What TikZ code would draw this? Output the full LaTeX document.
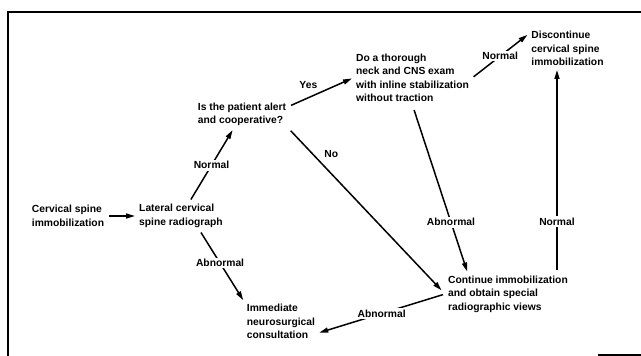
\documentclass[tikz,border=0pt]{standalone}
\usepackage{fontspec}
\setmainfont{Liberation Sans}
\usetikzlibrary{arrows.meta,calc}

\tikzset{
  box/.style={align=left, inner sep=3pt, font=\bfseries\fontsize{10.3}{13.5}\selectfont},
  lbl/.style={fill=white, inner sep=1.5pt, font=\bfseries\fontsize{10.3}{13.5}\selectfont},
  flow/.style={-{Triangle[length=9pt,width=5pt]}, line width=1.5pt, shorten <=2pt, shorten >=1pt},
}

\begin{document}
\begin{tikzpicture}[x=1pt,y=-1pt]
    \useasboundingbox (0,0) rectangle (641,356);
    % frame
    \draw[line width=2.2pt] (8,356) -- (8,12) -- (641,12);
    \draw[line width=1.5pt] (598,355) -- (641,355);

    \node[box] (cervImm)   at (68,216)    {Cervical spine\\immobilization};
    \node[box] (latRad)    at (181,216)   {Lateral cervical\\spine radiograph};
    \node[box] (alert)     at (242,114.5) {Is the patient alert\\and cooperative?};
    \node[box] (exam)      at (412.5,78)  {Do a thorough\\neck and CNS exam\\with inline stabilization\\without traction};
    \node[box] (discont)   at (567.5,48.5) {Discontinue\\cervical spine\\immobilization};
    \node[box] (contImm)   at (508,294)   {Continue immobilization\\and obtain special\\radiographic views};
    \node[box] (neuroCons) at (281,321.5) {Immediate\\neurosurgical\\consultation};

    \draw[flow] (cervImm) -- (latRad);
    \draw[flow] (latRad) -- node[lbl] {Normal} (alert);
    \draw[flow] (latRad.-38) -- node[lbl, pos=.46] {Abnormal} (neuroCons.north west);

    \draw[flow] (alert.10) -- node[box, pos=.3, above=5pt] {Yes} (exam.west);
    \draw[flow, shorten >=5pt] (alert.south east) -- node[box, pos=.15, right=8pt] {No} (contImm.west);

    \draw[flow] (exam.east) -- node[lbl] {Normal} (discont.160);
    \draw[flow, shorten <=5pt] (exam.south) -- node[lbl, pos=.7] {Abnormal} (contImm.152);

    \draw[flow] ([xshift=-14pt]contImm.north east) -- node[lbl, pos=.25] {Normal} ([xshift=-14pt]contImm.north east |- discont.south);
    \draw[flow] (contImm.west) -- node[lbl] {Abnormal} ([yshift=9pt]neuroCons.south east);
\end{tikzpicture}
\end{document}
